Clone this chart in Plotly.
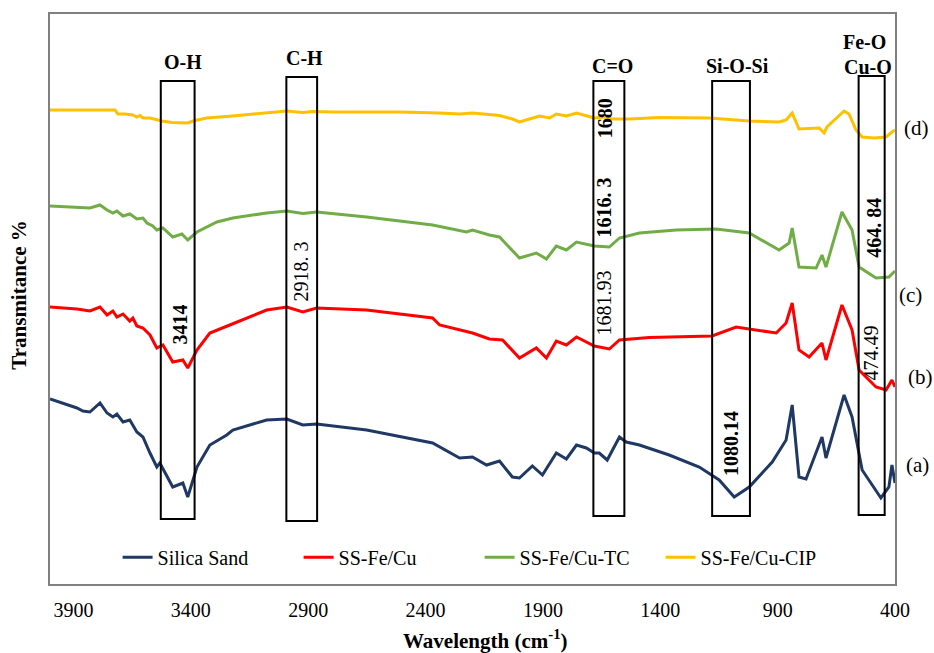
import plotly.graph_objects as go

# FTIR spectra (wavenumber in cm-1, transmittance in arbitrary offset units)
silica_wn = [4000, 3945, 3885, 3860, 3830, 3787, 3757, 3732, 3715, 3689, 3660, 3630, 3604,
             3574, 3545, 3532, 3477, 3434, 3413, 3374, 3319, 3247, 3221, 3077, 2991, 2923,
             2864, 2651, 2370, 2255, 2200, 2140, 2085, 2030, 2000, 1945, 1902, 1843, 1800,
             1757, 1715, 1681, 1660, 1626, 1574, 1545, 1489, 1362, 1234, 1149, 1085, 1021,
             923, 864, 838, 809, 779, 711, 694, 617, 583, 540, 481, 460, 426, 413, 400]
silica_t = [37.0, 36.2, 35.2, 34.6, 34.4, 36.2, 34.2, 33.4, 34.0, 32.4, 32.8, 30.4, 29.4,
            26.2, 23.4, 24.2, 19.4, 20.2, 17.4, 23.4, 27.8, 29.8, 30.8, 32.8, 33.0, 31.8,
            32.0, 30.8, 28.2, 25.2, 25.4, 23.8, 24.6, 21.4, 21.2, 23.6, 21.8, 26.2, 25.0,
            27.8, 27.2, 26.2, 26.2, 24.8, 29.4, 28.4, 27.8, 25.8, 23.4, 20.8, 17.4, 19.4,
            24.4, 28.8, 35.8, 21.4, 21.0, 29.4, 25.2, 37.8, 33.4, 22.8, 18.8, 17.2, 19.4,
            23.8, 20.2]

fecu_wn = [4000, 3885, 3830, 3787, 3757, 3732, 3715, 3689, 3660, 3647, 3630, 3604, 3574,
           3545, 3519, 3477, 3434, 3413, 3374, 3319, 3234, 3077, 2991, 2923, 2864, 2651,
           2370, 2340, 2200, 2128, 2072, 2000, 1928, 1885, 1843, 1800, 1757, 1681, 1617,
           1574, 1447, 1179, 1077, 1021, 906, 864, 838, 809, 766, 711, 694, 626, 583, 553,
           481, 438, 413, 400]
fecu_t = [55.4, 55.0, 54.6, 55.4, 53.8, 54.6, 53.4, 54.0, 52.6, 53.2, 51.6, 51.2, 49.8,
          47.2, 47.8, 44.4, 44.8, 43.2, 46.8, 50.2, 51.8, 54.8, 55.4, 54.4, 55.2, 54.8,
          53.2, 51.8, 50.2, 49.0, 48.8, 45.2, 47.2, 45.2, 48.6, 47.8, 49.4, 47.6, 47.0,
          48.8, 49.3, 49.6, 51.4, 51.0, 50.2, 52.2, 56.2, 46.8, 45.4, 48.2, 44.8, 55.8,
          50.8, 42.8, 39.4, 38.8, 40.8, 39.4]

tc_wn = [4000, 3915, 3830, 3787, 3757, 3732, 3715, 3689, 3660, 3630, 3604, 3587, 3562,
         3545, 3519, 3477, 3438, 3413, 3374, 3289, 3221, 3077, 2991, 2923, 2864, 2651,
         2370, 2226, 2200, 2128, 2085, 2000, 1928, 1885, 1843, 1800, 1757, 1681, 1617,
         1574, 1489, 1332, 1162, 1021, 894, 851, 838, 809, 736, 711, 694, 626, 583, 553,
         481, 426, 400]
tc_t = [75.6, 75.4, 75.2, 75.8, 74.8, 74.2, 74.6, 73.6, 74.0, 73.0, 73.2, 72.2, 71.6,
        70.8, 71.2, 69.4, 70.0, 68.8, 70.4, 72.4, 73.2, 74.2, 74.6, 74.1, 74.4, 73.4,
        71.8, 70.4, 70.8, 69.8, 69.4, 65.2, 66.2, 65.0, 67.6, 66.8, 68.4, 67.6, 67.4,
        69.2, 70.2, 70.8, 71.0, 70.2, 66.8, 68.2, 71.2, 63.4, 63.2, 65.8, 63.4, 74.4,
        70.8, 63.4, 61.2, 61.4, 62.6]

cip_wn = [4000, 3872, 3787, 3723, 3711, 3681, 3647, 3630, 3617, 3604, 3574, 3523, 3481,
          3447, 3413, 3391, 3332, 3221, 3077, 2991, 2923, 2881, 2796, 2511, 2340, 2255,
          2200, 2085, 2030, 2000, 1957, 1915, 1872, 1843, 1800, 1757, 1681, 1638, 1604,
          1532, 1404, 1191, 1021, 894, 864, 838, 809, 723, 702, 690, 617, 596, 566, 540,
          489, 438, 413, 400]
cip_t = [94.8, 94.8, 94.9, 94.8, 94.0, 94.0, 93.8, 93.4, 93.7, 93.2, 93.2, 92.6, 92.3,
         92.2, 92.2, 92.6, 93.2, 93.6, 94.2, 94.6, 94.3, 94.5, 94.4, 94.4, 94.2, 94.0,
         94.2, 93.7, 93.0, 92.4, 93.0, 93.6, 93.2, 94.0, 93.6, 94.2, 93.2, 93.4, 93.0,
         93.0, 93.3, 93.2, 92.6, 92.4, 92.8, 94.2, 91.0, 91.2, 90.2, 91.4, 94.6, 94.0,
         90.8, 89.4, 89.2, 89.4, 90.4, 90.8]

series_names = ["Silica Sand", "SS-Fe/Cu", "SS-Fe/Cu-TC", "SS-Fe/Cu-CIP"]
series_colors = ["#1F3864", "#FF0000", "#70AD47", "#FFC000"]
series_wn = [silica_wn, fecu_wn, tc_wn, cip_wn]
series_t = [silica_t, fecu_t, tc_t, cip_t]

x_ticks = [3900, 3400, 2900, 2400, 1900, 1400, 900, 400]

# Functional-group bands: (high wn, low wn, top, bottom)
band_boxes = [
    (3528, 3384, 100.6, 13.0),
    (2993, 2862, 101.4, 12.6),
    (1685, 1553, 100.6, 13.6),
    (1179, 1018, 100.6, 13.6),
    (555, 444, 101.6, 13.8),
]
band_titles = [("O-H", 3435, 104.4), ("C-H", 2917, 105.2), ("C=O", 1604, 103.6),
               ("Si-O-Si", 1073, 103.6), ("Fe-O", 529, 108.4), ("Cu-O", 517, 103.4)]

# Peak positions written inside the bands (text, wn, t, bold)
peak_labels = [("3414", 3448, 51.8, True), ("2918. 3", 2929, 62.6, False),
               ("1680", 1634, 93.2, True), ("1616. 3", 1638, 75.4, True),
               ("1681.93", 1638, 56.2, False), ("1080.14", 1099, 28.2, True),
               ("464. 84", 491, 71.2, True), ("474.49", 504, 46.2, False)]

curve_tags = [("(d)", 1.026, 91.2), ("(c)", 1.018, 57.8), ("(b)", 1.030, 41.4), ("(a)", 1.027, 23.8)]

SERIF = "Liberation Serif"

fig = go.Figure()
for name, color, wn, t in zip(series_names, series_colors, series_wn, series_t):
    fig.add_trace(go.Scatter(x=wn, y=t, mode="lines", name=name,
                             line=dict(color=color, width=3)))

for x0, x1, y0, y1 in band_boxes:
    fig.add_shape(type="rect", xref="x", yref="y", x0=x0, x1=x1, y0=y0, y1=y1,
                  line=dict(color="black", width=2), layer="above")


def note(text, x, y, xref="x", yref="y", size=20, angle=0):
    return dict(text=text, x=x, y=y, xref=xref, yref=yref, textangle=angle,
                xanchor="center", yanchor="middle", showarrow=False,
                font=dict(family=SERIF, size=size, color="black"))


annotations = []
for text, xv, yv in band_titles:
    annotations.append(note("<b>%s</b>" % text, xv, yv))
for text, xv, yv, bold in peak_labels:
    annotations.append(note(("<b>%s</b>" % text) if bold else text, xv, yv, angle=-90))
for text, xp, yv in curve_tags:
    annotations.append(note(text, xp, yv, xref="paper", size=21))
annotations.append(note("<b>Transmitance %</b>", -0.037, 0.507, xref="paper",
                        yref="paper", size=21, angle=-90))
annotations.append(note("<b>Wavelength (cm<sup>-1</sup>)</b>", 0.515, -0.098,
                        xref="paper", yref="paper", size=21))

fig.update_layout(
    width=934, height=653,
    margin=dict(l=50, r=39, t=14, b=69),
    paper_bgcolor="white", plot_bgcolor="white",
    font=dict(family=SERIF, color="black"),
    annotations=annotations,
    showlegend=True,
    legend=dict(orientation="h", x=0.08, y=0.047, xanchor="left", yanchor="middle",
                entrywidth=136, entrywidthmode="pixels",
                bgcolor="rgba(0,0,0,0)", font=dict(family=SERIF, size=20, color="black")),
    xaxis=dict(range=[4000, 400], tickvals=x_ticks, ticktext=[str(v) for v in x_ticks],
               showgrid=False, zeroline=False, showline=True, mirror=True,
               linecolor="#808080", linewidth=1.5, ticks="outside", ticklen=7,
               tickcolor="rgba(0,0,0,0)", tickfont=dict(family=SERIF, size=20, color="black")),
    yaxis=dict(range=[0, 114], showticklabels=False, showgrid=False, zeroline=False,
               showline=True, mirror=True, linecolor="#808080", linewidth=1.5),
)

fig.write_html("out.html")
